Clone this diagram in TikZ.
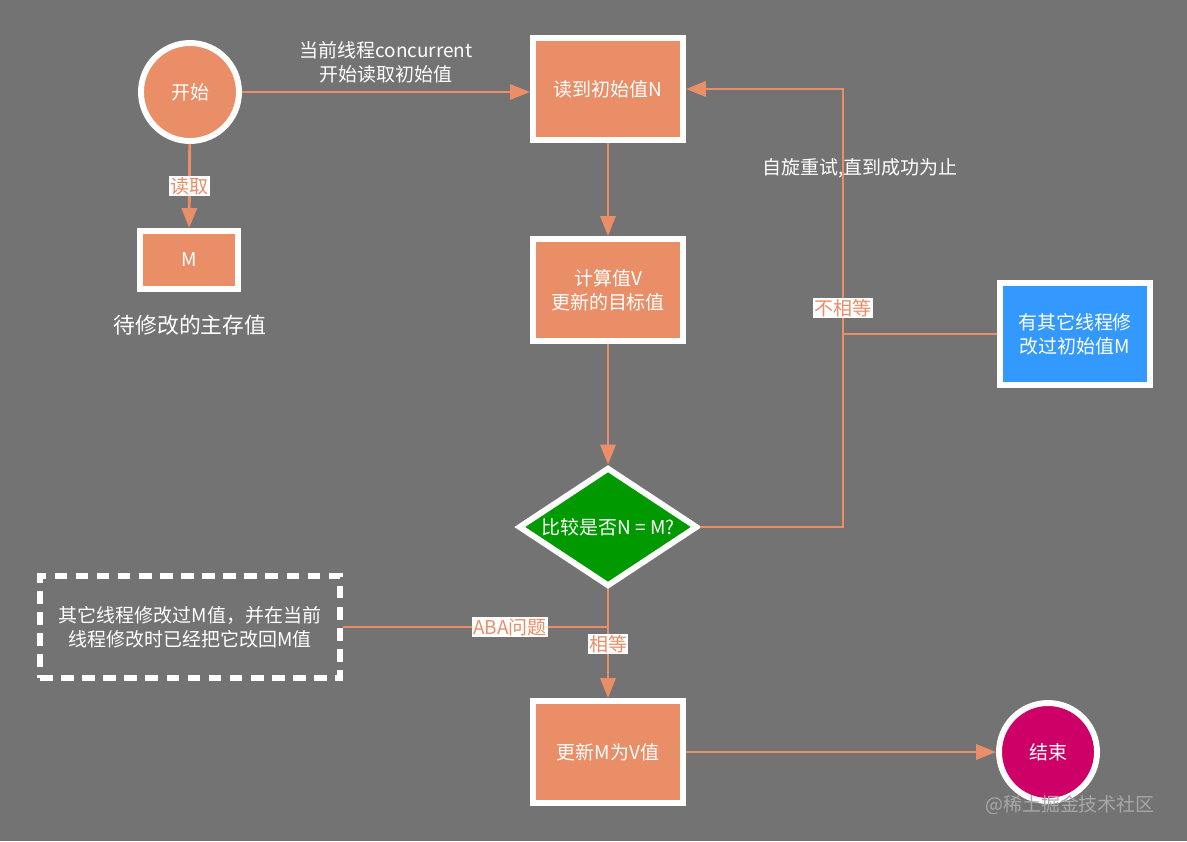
\documentclass[tikz,border=0pt]{standalone}
\usepackage{fontspec}
\setmainfont{Noto Sans CJK SC}
\usetikzlibrary{shapes.geometric,arrows.meta}
\definecolor{bg}{HTML}{737373}
\definecolor{peach}{HTML}{EA8E68}
\definecolor{okgreen}{HTML}{009900}
\definecolor{skyblue}{HTML}{3399FF}
\definecolor{berry}{HTML}{CC0066}
\definecolor{mark}{HTML}{A8A8A8}
\tikzset{
	box/.style={rectangle, fill=peach, draw=white, line width=4.2pt, minimum width=3.75cm, minimum height=2.55cm, text=white, align=center},
	blob/.style={circle, draw=white, line width=4.2pt, minimum size=2.45cm, text=white},
	link/.style={peach, line width=2pt, -{Triangle[length=0.5cm,width=0.38cm]}},
	tag/.style={fill=white, text=peach, inner sep=1pt},
}

\begin{document}
\begin{tikzpicture}[x=0.025cm, y=-0.025cm, font=\fontsize{13.5}{17}\selectfont]
		\fill[bg] (0,0) rectangle (1187,841);
		\node[blob, fill=peach] (start) at (190,92) {开始};
		\node[box, minimum width=2.45cm, minimum height=1.45cm] (mem) at (189,260) {M};
		\node[text=white, font=\fontsize{15.5}{19}\selectfont] (memtxt) at (190,325) {待修改的主存值};
		\node[box] (readN) at (608,89) {读到初始值N};
		\node[box] (calcV) at (608,290) {计算值V\\更新的目标值};
		\node[diamond, aspect=2, fill=okgreen, draw=white, line width=4.2pt, inner sep=0pt, minimum width=4.475cm, minimum height=2.975cm, text=white] (cmp) at (608,527) {比较是否N = M?};
		\node[box, fill=skyblue] (other) at (1075,334) {有其它线程修\\改过初始值M};
		\node[draw=white, line width=4.2pt, dash pattern=on 9pt off 6pt, minimum width=7.5cm, minimum height=2.55cm, text=white, align=center] (aba) at (190,627) {其它线程修改过M值，并在当前\\线程修改时已经把它改回M值};
		\node[box] (upd) at (608,752) {更新M为V值};
		\node[blob, fill=berry] (end) at (1048,752) {结束};
		\node[text=white] (retry) at (860,168) {自旋重试,直到成功为止};
		\node[text=mark] (wm) at (1070,805) {@稀土掘金技术社区};
		\coordinate (rt) at (843,527);
		\draw[link] (start) -- node[tag] {读取} (mem);
		\draw[link] (start.east) -- node[above=2pt, text=white, align=center] {当前线程concurrent\\开始读取初始值} (readN.west |- start.east);
		\draw[link] (readN) -- (calcV);
		\draw[link] (calcV) -- (cmp);
		\draw[link] (cmp.east) -- (rt) |- node[tag, pos=0.25] {不相等} (readN.east);
		\draw[peach, line width=2pt] (other.west) -- (rt |- other.west);
		\draw[link] (cmp) -- node[tag] {相等} (upd);
		\draw[peach, line width=2pt] (aba.east) -- node[tag, pos=0.63] {ABA问题} (cmp.south |- aba.east);
		\draw[link] (upd) -- (end);
	\end{tikzpicture}
\end{document}
